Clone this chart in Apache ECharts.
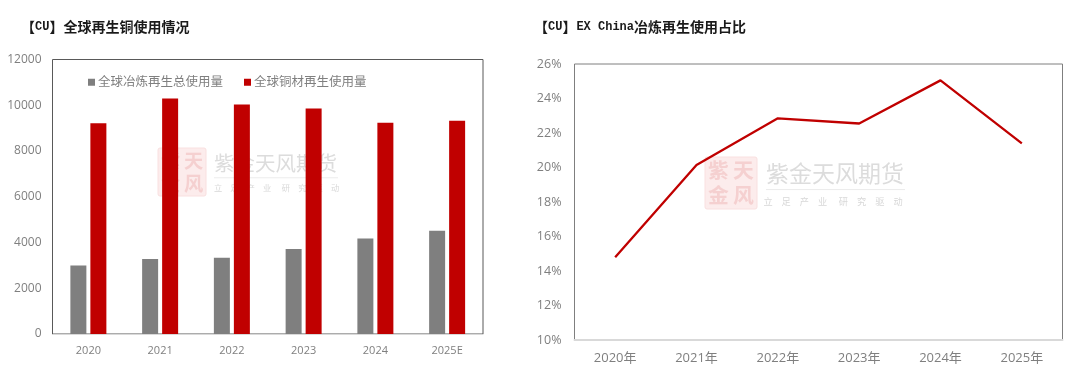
<!DOCTYPE html>
<html><head><meta charset="utf-8">
<style>html,body{margin:0;padding:0;background:#fff}#c{width:1080px;height:379px}</style>
<script src="https://cdn.jsdelivr.net/npm/echarts@6/dist/echarts.min.js"></script>
</head><body><div id="c"></div>
<script>
const barCategories = ['2020','2021','2022','2023','2024','2025E'];
const smeltingTotal = [3000,3280,3330,3720,4170,4510];
const copperMaterial = [9210,10290,10030,9860,9240,9320];
const lineCategories = ['2020年','2021年','2022年','2023年','2024年','2025年'];
const exChinaShare = [14.8,20.15,22.85,22.55,25.05,21.4];
const leftTitle = '【CU】全球再生铜使用情况';
const rightTitle = '【CU】EX China冶炼再生使用占比';
const seriesNames = ['全球冶炼再生总使用量','全球铜材再生使用量'];

const sans = '"Open Sans","Noto Sans CJK SC",sans-serif';
const cjk = '"Noto Sans CJK SC",sans-serif';
const mono = '"Liberation Mono",monospace';
function richTitle(s){
  return s.replace(/[A-Za-z ]+/g,m=>'{lat|'+m+'}').replace(/[^{}|]+(?=\{|$)/g,m=>/^[A-Za-z ]+$/.test(m)?m:'{cn|'+m+'}');
}
function titleStyle(){
  return {rich:{
    cn:{fontFamily:cjk,fontSize:14,fontWeight:'bold',color:'#1a1a1a'},
    lat:{fontFamily:mono,fontSize:12,fontWeight:'bold',color:'#1a1a1a'}
  }};
}
function watermark(sx, sy, size, tx, ty, fs, tw, subL, subSpan){
  const c = size/2, sf = size*0.4;
  const mk = (t,x,y)=>({type:'text',z:-5,silent:true,style:{text:t,x:x,y:y,fill:'#f5d0d0',font:'bold '+sf+'px "Noto Sans CJK SC"',align:'center',verticalAlign:'middle'}});
  const sub = ['立','足','产','业','研','究','驱','动'];
  const offs = [0,1,2,3,4.15,5.15,6.15,7.15];
  const subs = sub.map((ch,i)=>({type:'text',z:-5,silent:true,style:{text:ch,x:subL+offs[i]/7.15*subSpan,y:ty+fs*1.22,fill:'#d8d8d8',font:fs*0.4+'px "Noto Sans CJK SC"',align:'center',verticalAlign:'middle'}}));
  return [
    {type:'rect',z:-6,silent:true,shape:{x:sx,y:sy,width:size,height:size,r:2},style:{fill:'#fcecec',stroke:'#f9e0e0',lineWidth:1}},
    mk('紫',sx+c*0.52,sy+c*0.52),mk('天',sx+c*1.48,sy+c*0.52),mk('金',sx+c*0.52,sy+c*1.48),mk('风',sx+c*1.48,sy+c*1.48),
    {type:'text',z:-5,silent:true,style:{text:'紫金天风期货',x:tx,y:ty,fill:'#dcdcdc',font:fs+'px "Noto Sans CJK SC"',align:'left',verticalAlign:'middle'}},
    {type:'line',z:-5,silent:true,shape:{x1:tx,y1:ty+fs*0.72,x2:tx+tw,y2:ty+fs*0.72},style:{stroke:'#ececec',lineWidth:1}},
    ...subs
  ];
}
const axisLabel = {color:'#7f7f7f',fontSize:11,fontFamily:sans};
const chart = echarts.init(document.getElementById('c'));
chart.setOption({
  animation:false,
  backgroundColor:'#fff',
  title:[
    {text:richTitle(leftTitle),left:21,top:20,padding:0,textStyle:titleStyle()},
    {text:richTitle(rightTitle),left:534,top:20,padding:0,textStyle:titleStyle()}
  ],
  legend:{data:seriesNames,left:88,top:76,itemWidth:7,itemHeight:7,itemGap:21,icon:'rect',padding:0,
    textStyle:{color:'#7f7f7f',fontSize:12.5,fontFamily:sans,padding:[0,0,0,-2]}},
  grid:[
    {left:52.5,top:59.5,width:430.5,height:274.5,show:true,borderColor:'#595959',borderWidth:1,backgroundColor:'transparent'},
    {left:574.5,top:64,width:488,height:276,show:true,borderColor:'#7f7f7f',borderWidth:1,backgroundColor:'transparent'}
  ],
  xAxis:[
    {type:'category',gridIndex:0,data:barCategories,axisTick:{show:false},axisLine:{lineStyle:{color:'#d9d9d9',width:1}},axisLabel:{...axisLabel,margin:11}},
    {type:'category',gridIndex:1,data:lineCategories,axisTick:{show:false},axisLine:{lineStyle:{color:'#d9d9d9',width:2}},axisLabel:{...axisLabel,fontSize:13,margin:12}}
  ],
  yAxis:[
    {type:'value',gridIndex:0,min:0,max:12000,interval:2000,splitLine:{show:false},axisLine:{show:false},axisTick:{show:false},axisLabel:{...axisLabel,fontSize:12,margin:11,formatter:v=>String(v)}},
    {type:'value',gridIndex:1,min:10,max:26,interval:2,splitLine:{show:false},axisLine:{show:false},axisTick:{show:false},axisLabel:{...axisLabel,fontSize:12.5,margin:13,formatter:'{value}%'}}
  ],
  series:[
    {name:seriesNames[0],type:'bar',xAxisIndex:0,yAxisIndex:0,data:smeltingTotal,barWidth:16,barGap:'25%',itemStyle:{color:'#7f7f7f'},z:3},
    {name:seriesNames[1],type:'bar',xAxisIndex:0,yAxisIndex:0,data:copperMaterial,barWidth:16,barGap:'25%',itemStyle:{color:'#c00000'},z:3},
    {name:'EX China冶炼再生使用占比',type:'line',xAxisIndex:1,yAxisIndex:1,data:exChinaShare,symbol:'none',lineStyle:{color:'#c00000',width:2.3},z:3}
  ],
  graphic:[...watermark(158,148,48,214,163,20.5,124,218,117),...watermark(705,157,52,766,173,23,139,768,130)]
});
</script></body></html>
